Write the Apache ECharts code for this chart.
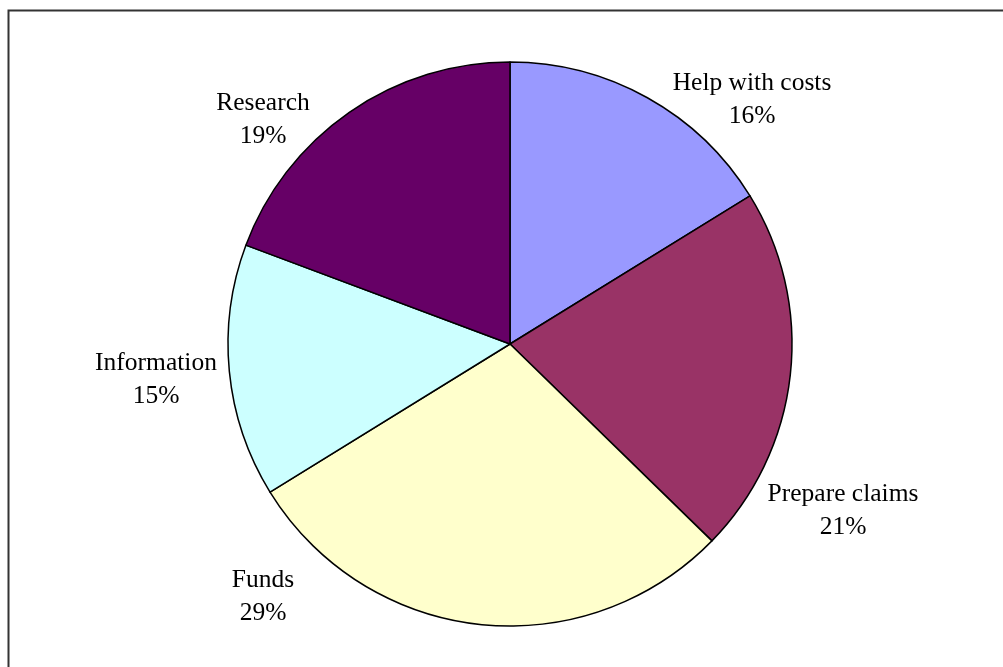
<!DOCTYPE html>
<html>
<head>
<meta charset="utf-8">
<script src="https://cdn.jsdelivr.net/npm/echarts@6/dist/echarts.min.js"></script>
<style>
  html, body { margin: 0; padding: 0; background: #fff; }
  #chart { width: 1003px; height: 667px; }
</style>
</head>
<body>
<div id="chart"></div>
<script>
  // slices, clockwise from 12 o'clock
  const categories = ['Help with costs', 'Prepare claims', 'Funds', 'Information', 'Research']
  const shares = [16.2, 21.1, 28.9, 14.5, 19.3]
  const colors = ['#9999FF', '#993366', '#FFFFCC', '#CCFFFF', '#660066']

  // where the spreadsheet put each label block (centre, px)
  const labelSpots = [[752, 100], [843, 511], [263, 597], [156, 380], [263, 120]]

  const chart = echarts.init(document.getElementById('chart'))

  const option = {
    animation: false,
    graphic: [
      {
        type: 'rect',
        shape: { x: 8.5, y: 10.5, width: 1200, height: 900 },
        style: { fill: 'none', stroke: '#333', lineWidth: 2 },
        silent: true
      }
    ],
    series: [
      {
        type: 'pie',
        center: [510, 344],
        radius: 282,
        startAngle: 90,
        clockwise: true,
        percentPrecision: 0,
        avoidLabelOverlap: false,
        itemStyle: { borderColor: '#000', borderWidth: 1.5 },
        label: {
          show: true,
          position: 'outside',
          formatter: '{b}\n{d}%',
          fontFamily: '"Liberation Serif", "Times New Roman", serif',
          fontSize: 25.5,
          lineHeight: 33,
          color: '#000',
          align: 'center'
        },
        labelLine: { show: false },
        labelLayout: function (params) {
          const p = labelSpots[params.dataIndex]
          return { x: p[0], y: p[1], align: 'center', verticalAlign: 'middle' }
        },
        emphasis: { disabled: true },
        data: categories.map(function (name, i) {
          return { name: name, value: shares[i], itemStyle: { color: colors[i] } }
        })
      }
    ]
  }
  chart.setOption(option)
</script>
</body>
</html>
